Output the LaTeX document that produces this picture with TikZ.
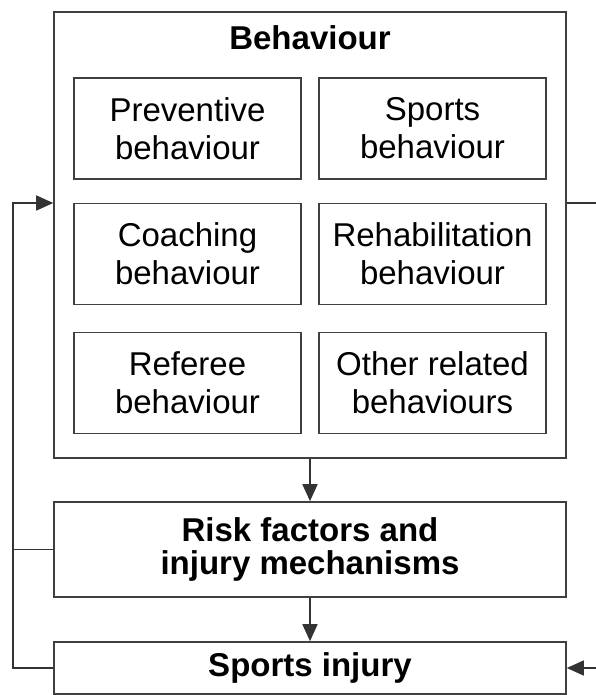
\documentclass[tikz,border=0pt]{standalone}
\usepackage{fontspec}
\setmainfont{Liberation Sans}
\usetikzlibrary{arrows.meta}
\begin{document}
\begin{tikzpicture}[x=1pt,y=-1pt,
  box/.style={draw=black!75, line width=1.6pt, rectangle, inner sep=0pt, align=center,
    font=\fontsize{33}{38}\selectfont},
  inbox/.style={box, minimum width=227pt, minimum height=101pt},
  widebox/.style={box, minimum width=512pt, font=\fontsize{33}{33}\selectfont\bfseries},
  conn/.style={line width=1.6pt, draw=black!80},
  arr/.style={conn, -{Triangle[length=17pt,width=15pt]}}]
\clip (0,0) rectangle (596,695);
\fill[white] (0,0) rectangle (596,695);
% outer behaviour box
\node[box, minimum width=512pt, minimum height=446pt] (beh) at (310,235) {};
\node[font=\fontsize{33}{38}\selectfont\bfseries, anchor=base, inner sep=0pt] (title) at (310,50) {Behaviour};
% inner boxes
\node[inbox] (prev) at (187.5,128.5) {Preventive\\behaviour};
\node[inbox] (sport) at (432.5,128.5) {Sports\\behaviour};
\node[inbox] (coach) at (187.5,254) {Coaching\\behaviour};
\node[inbox] (rehab) at (432.5,254) {Rehabilitation\\behaviour};
\node[inbox] (ref) at (187.5,383) {Referee\\behaviour};
\node[inbox] (other) at (432.5,383) {Other related\\behaviours};
% lower boxes
\node[widebox, minimum height=95pt] (risk) at (310,549.5) {Risk factors and\\injury mechanisms};
\node[widebox, minimum height=52pt] (inj) at (310,668) {Sports injury};
% connectors
\draw[arr] (beh.south) -- (risk.north);
\draw[arr] (risk.south) -- (inj.north);
\coordinate (fl) at (13,203);
\draw[arr] (inj.west) -- (inj.west -| fl) -- (fl) -- (fl -| beh.west);
\draw[conn] (risk.west) -- (risk.west -| fl);
\coordinate (rr) at (600,203);
\draw[conn] (rr -| beh.east) -- (rr);
\coordinate (rb) at (600,668);
\draw[arr] (rb) -- (rb -| inj.east);
\end{tikzpicture}
\end{document}
